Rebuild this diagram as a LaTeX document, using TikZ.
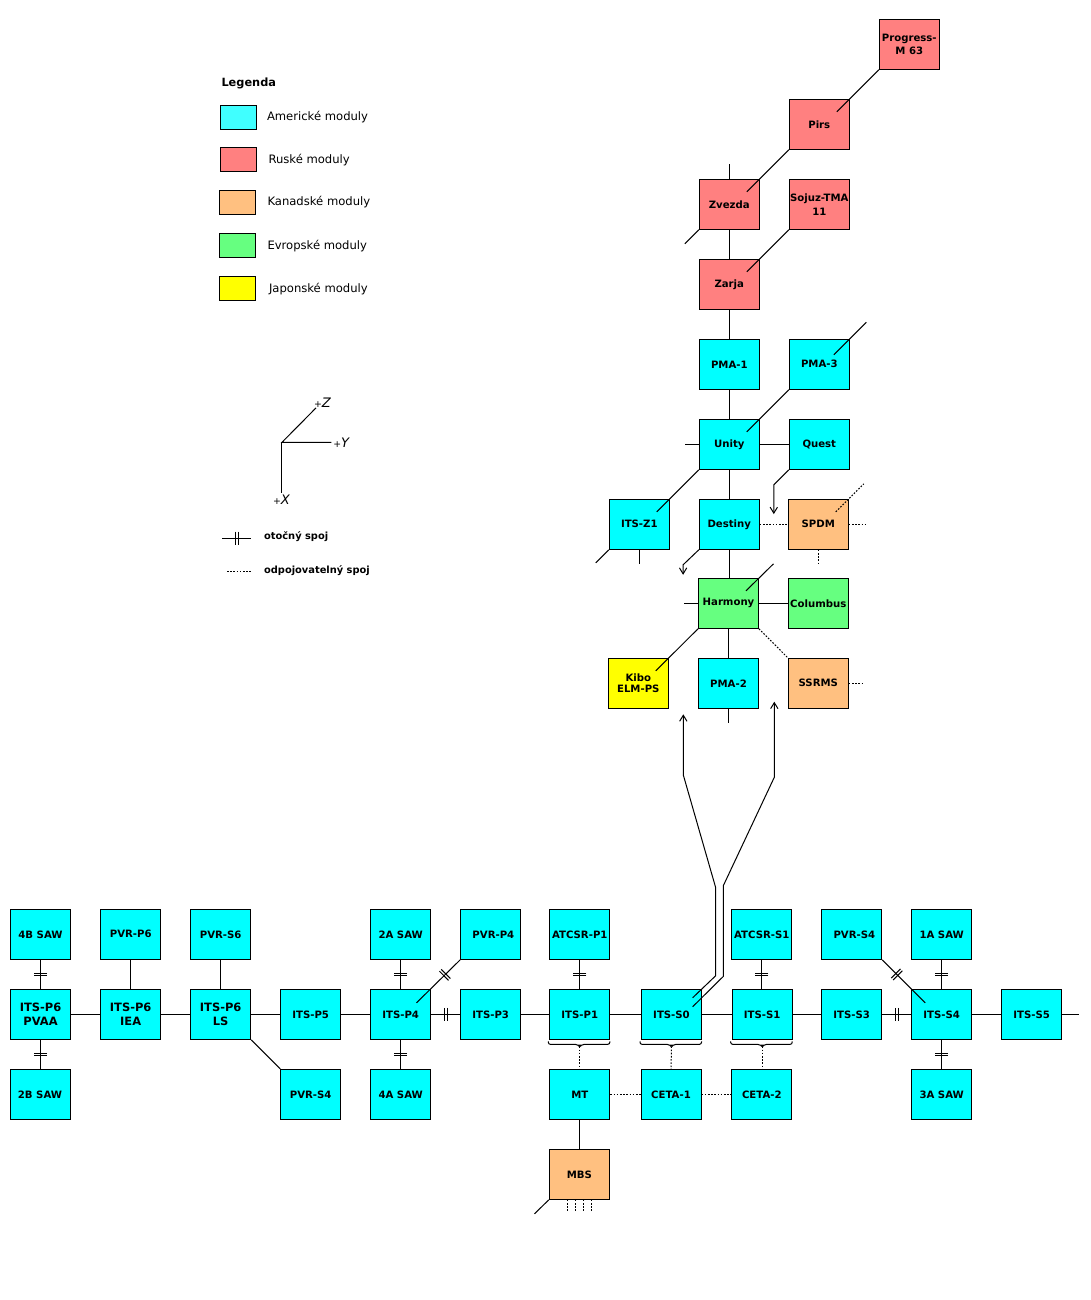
\documentclass[tikz,border=0pt]{standalone}
\usepackage{fontspec}
\setmainfont{DejaVu Sans}
\usetikzlibrary{calc,arrows.meta}
\definecolor{amer}{RGB}{0,255,255}
\definecolor{amerleg}{RGB}{64,255,255}
\definecolor{rus}{RGB}{255,128,128}
\definecolor{kan}{RGB}{255,192,128}
\definecolor{evr}{RGB}{102,255,128}
\definecolor{jap}{RGB}{255,255,0}
\tikzset{
  mod/.style={draw=black, line width=0.75pt, minimum width=45pt, minimum height=37.5pt,
    inner sep=0pt, align=center, font=\bfseries\fontsize{7.6}{9.5}\selectfont},
  am/.style={mod, fill=amer},
  ru/.style={mod, fill=rus},
  ka/.style={mod, fill=kan},
  ev/.style={mod, fill=evr},
  ja/.style={mod, fill=jap},
  big/.style={font=\bfseries\fontsize{8.6}{11}\selectfont},
  det/.style={dash pattern=on 1.2pt off 1.2pt},
  arr/.style={-{Straight Barb[length=4.5pt,width=5.5pt]}},
  rj/.pic={\draw[line width=0.75pt,solid] (-1.3,-6.5) -- (-1.3,6.5) (1.3,-6.5) -- (1.3,6.5);},
  legbox/.style={draw, line width=0.75pt, minimum width=26.6pt, minimum height=18.3pt, inner sep=0pt},
  legtxt/.style={anchor=west, inner sep=0pt, font=\fontsize{8.7}{10}\selectfont},
  legb/.style={anchor=west, inner sep=0pt, font=\bfseries\fontsize{7.4}{9}\selectfont},
  axl/.style={anchor=west, inner sep=0pt},
}
\newcommand\mybrace[1]{%
  \draw[rounded corners=1.5pt] ($(#1.south west)+(-1,1.5)$) -- ($(#1.south west)+(-1,4.5)$)
   -- ($(#1.south)+(-2.5,4.5)$) -- ($(#1.south)+(0,6.5)$) -- ($(#1.south)+(2.5,4.5)$)
   -- ($(#1.south east)+(-0.5,4.5)$) -- ($(#1.south east)+(-0.5,1.5)$);}
\newcommand\axlab[1]{{\fontsize{7}{7}\selectfont+}{\fontsize{9.8}{10}\selectfont\itshape #1}}
\begin{document}
\begin{tikzpicture}[x=0.75pt,y=-0.75pt,line width=0.75pt]
\useasboundingbox (0,0) rectangle (1090,1300);

% ---------------- legend ----------------
\node[anchor=west,inner sep=0pt,font=\bfseries\fontsize{8.5}{10}\selectfont] (legtitle) at (221,83) {Legenda};
\node[legbox,fill=amerleg] (lg1) at (238.7,117.2) {};
\node[legtxt] (lt1) at (266.5,117) {Americké moduly};
\node[legbox,fill=rus] (lg2) at (238.7,159.2) {};
\node[legtxt] (lt2) at (268,160.5) {Ruské moduly};
\node[legbox,fill=kan] (lg3) at (237.4,202.5) {};
\node[legtxt] (lt3) at (267,202.1) {Kanadské moduly};
\node[legbox,fill=evr] (lg4) at (237.4,245.5) {};
\node[legtxt] (lt4) at (267,246) {Evropské moduly};
\node[legbox,fill=jap] (lg5) at (237.4,288.5) {};
\node[legtxt] (lt5) at (268.5,289) {Japonské moduly};

% axes
\coordinate (ax0) at (281.9,442.4);
\coordinate (axZ) at (316,407.9);
\coordinate (axY) at (331.3,442.4);
\coordinate (axX) at (281.9,492.5);
\draw (axZ) -- (ax0) -- (axY);
\draw (ax0) -- (axX);
\node[axl] (lz) at (313.5,403) {\axlab{Z}};
\node[axl] (ly) at (332.8,442.4) {\axlab{Y}};
\node[axl] (lx) at (272.5,499.5) {\axlab{X}};

% joint legend
\coordinate (rl1) at (222,538);
\coordinate (rl2) at (251.4,538);
\draw (rl1) -- pic[pos=0.5,sloped]{rj} (rl2);
\node[legb] (rlt) at (263.6,537) {otočný spoj};
\coordinate (dl1) at (227,571);
\coordinate (dl2) at (250.8,571);
\draw[det] (dl1) -- (dl2);
\node[legb] (dlt) at (263.6,571) {odpojovatelný spoj};

% ---------------- upper stack ----------------
\node[ru] (progress) at (909.3,44.3) {Progress-\\M 63};
\node[ru] (pirs) at (819.3,124.3) {Pirs};
\node[ru] (zvezda) at (729.3,204.3) {Zvezda};
\node[ru, font=\bfseries\fontsize{7.6}{10.5}\selectfont] (sojuz) at (819.3,204.3) {Sojuz-TMA\\11};
\node[ru] (zarja) at (729.3,284.3) {Zarja};
\node[am] (pma1) at (729.3,364.3) {PMA-1};
\node[am] (pma3) at (819.3,364.3) {PMA-3};
\node[am] (unity) at (729.3,444.3) {Unity};
\node[am] (quest) at (819.3,444.3) {Quest};
\node[am] (itsz1) at (639.3,524.3) {ITS-Z1};
\node[am] (destiny) at (729.3,524.3) {Destiny};
\node[ka] (spdm) at (818.3,524.3) {SPDM};
\node[ev] (harmony) at (728.5,603.3) {Harmony};
\node[ev] (columbus) at (818.3,603.3) {Columbus};
\node[ja, font=\bfseries\fontsize{7.6}{8.3}\selectfont] (kibo) at (638.3,683.3) {Kibo\\ELM-PS};
\node[am] (pma2) at (728.5,683.3) {PMA-2};
\node[ka] (ssrms) at (818.3,683.3) {SSRMS};

\draw (progress.south west) -- ($(pirs.north east)+(-13,13)$);
\draw (pirs.south west) -- ($(zvezda.north east)+(-13,13)$);
\draw (zvezda.north) -- ++(0,-15);
\draw (zvezda.south west) -- ++(-14,14);
\draw (zvezda.south) -- (zarja.north);
\draw (sojuz.south west) -- ($(zarja.north east)+(-13,13)$);
\draw (zarja.south) -- (pma1.north);
\draw ($(pma3.north east)+(-16,16)$) -- ($(pma3.north east)+(16.5,-16.5)$);
\draw (pma1.south) -- (unity.north);
\draw (pma3.south west) -- ($(unity.north east)+(-13,13)$);
\draw (unity.west) -- ++(-14,0);
\draw (unity.east) -- (quest.west);
\draw (unity.south west) -- ($(itsz1.north east)+(-13,13)$);
\draw (unity.south) -- (destiny.north);
\draw[arr] (quest.south west) -- ++(-15,15) -- ++(0,29.3);
\draw[det] (destiny.east) -- (spdm.west);
\draw[det] ($(spdm.north east)+(-13,13)$) -- ($(spdm.north east)+(15,-15)$);
\draw[det] (spdm.east) -- ++(18,0);
\draw[det] (spdm.south) -- ++(0,14);
\draw (itsz1.south west) -- ++(-13,13);
\draw (itsz1.south) -- ++(0,14);
\draw[arr] (destiny.south west) -- ++(-15.7,15) -- ++(0,10);
\draw (destiny.south) -- (destiny.south |- harmony.north);
\draw ($(harmony.north east)+(-13,13)$) -- ($(harmony.north east)+(14.5,-14)$);
\draw (harmony.west) -- ++(-14,0);
\draw (harmony.east) -- (columbus.west);
\draw (harmony.south west) -- ($(kibo.north east)+(-13,13)$);
\draw (harmony.south) -- (pma2.north);
\draw[det] (harmony.south east) -- (ssrms.north west);
\draw (pma2.south) -- ++(0,14);
\draw[det] (ssrms.east) -- ++(14,0);

% ---------------- truss ----------------
\node[am] (b4B) at (40.5,934.3) {4B SAW};
\node[am, big] (pvaa) at (40.5,1014.3) {ITS-P6\\PVAA};
\node[am] (b2B) at (40,1094.3) {2B SAW};
\node[am] (pvrp6) at (130.7,934.3) {PVR-P6};
\node[am, big] (iea) at (130.7,1014.3) {ITS-P6\\IEA};
\node[am] (pvrs6) at (220.7,934.3) {PVR-S6};
\node[am, font=\bfseries\fontsize{8.6}{10.5}\selectfont] (ls) at (220.7,1014.3) {ITS-P6\\LS};
\node[am] (itsp5) at (310.7,1014.3) {ITS-P5};
\node[am] (pvrs4a) at (310.7,1094.3) {PVR-S4};
\node[am] (b2A) at (400.7,934.3) {2A SAW};
\node[am] (itsp4) at (400.7,1014.3) {ITS-P4};
\node[am] (b4A) at (400.7,1094.3) {4A SAW};
\node[am] (pvrp4) at (490.7,934.3) {\hspace{4pt}PVR-P4};
\node[am] (itsp3) at (490.7,1014.3) {ITS-P3};
\node[am] (atcsrp1) at (579.8,934.3) {ATCSR-P1};
\node[am] (itsp1) at (579.8,1014.3) {ITS-P1};
\node[am] (mt) at (579.8,1094.3) {MT};
\node[ka] (mbs) at (579.3,1174.3) {MBS};
\node[am] (itss0) at (671.5,1014.3) {ITS-S0};
\node[am] (ceta1) at (671,1094.3) {CETA-1};
\node[am] (atcsrs1) at (761.8,934.3) {ATCSR-S1};
\node[am] (itss1) at (762.2,1014.3) {ITS-S1};
\node[am] (ceta2) at (761.8,1094.3) {CETA-2};
\node[am] (pvrs4b) at (851.7,934.3) {\hspace{4pt}PVR-S4};
\node[am] (itss3) at (851.7,1014.3) {ITS-S3};
\node[am] (b1A) at (941.7,934.3) {1A SAW};
\node[am] (itss4) at (941.7,1014.3) {ITS-S4};
\node[am] (b3A) at (941.7,1094.3) {3A SAW};
\node[am] (itss5) at (1031.7,1014.3) {ITS-S5};

\draw (b4B.south) -- pic[pos=0.5,sloped]{rj} (pvaa.north);
\draw (pvaa.south) -- pic[pos=0.5,sloped]{rj} (pvaa.south |- b2B.north);
\draw (pvaa.east) -- (iea.west);
\draw (iea.east) -- (ls.west);
\draw (ls.east) -- (itsp5.west);
\draw (itsp5.east) -- (itsp4.west);
\draw (pvrp6.south) -- (iea.north);
\draw (pvrs6.south) -- (ls.north);
\draw (ls.south east) -- (pvrs4a.north west);
\draw (b2A.south) -- pic[pos=0.5,sloped]{rj} (itsp4.north);
\draw (itsp4.south) -- pic[pos=0.5,sloped]{rj} (b4A.north);
\draw (pvrp4.south west) -- pic[pos=0.35,sloped]{rj} ($(itsp4.north east)+(-14.7,14)$);
\draw (itsp4.east) -- pic[pos=0.5,sloped]{rj} (itsp3.west);
\draw (itsp3.east) -- (itsp1.west);
\draw (atcsrp1.south) -- pic[pos=0.5,sloped]{rj} (itsp1.north);
\draw (itsp1.east) -- (itss0.west);
\draw (itss0.east) -- (itss1.west);
\draw (itss1.east) -- (itss3.west);
\draw (itss3.east) -- pic[pos=0.5,sloped]{rj} (itss4.west);
\draw (pvrs4b.south east) -- pic[pos=0.34,sloped]{rj} ($(itss4.north west)+(14,14)$);
\draw (b1A.south) -- pic[pos=0.5,sloped]{rj} (itss4.north);
\draw (itss4.south) -- pic[pos=0.5,sloped]{rj} (b3A.north);
\draw (atcsrs1.south) -- pic[pos=0.5,sloped]{rj} (atcsrs1.south |- itss1.north);
\draw (itss4.east) -- (itss5.west);
\draw (itss5.east) -- ++(17,0);

\mybrace{itsp1}
\mybrace{itss0}
\mybrace{itss1}
\draw[det] ($(itsp1.south)+(0,6.5)$) -- (mt.north);
\draw[det] ($(itss0.south)+(0,6.5)$) -- (ceta1.north);
\draw[det] ($(itss1.south)+(0,6.5)$) -- (itss1.south |- ceta2.north);
\draw[det] (mt.east) -- (ceta1.west);
\draw[det] (ceta1.east) -- (ceta2.west);
\draw (mt.south) -- (mt.south |- mbs.north);
\draw (mbs.south west) -- ++(-14.3,14);
\foreach \dx in {-12,-4,4,12} \draw[det] ($(mbs.south)+(\dx,0)$) -- ++(0,11);

% long arrows from ITS-S0
\coordinate (a1s) at ($(itss0.north east)+(-9.4,9)$);
\coordinate (kiboarr) at (683.3,714.3);
\draw[arr] (a1s) -- (715.7,975.7) -- (715.7,887.7) -- (683.3,775) -- (kiboarr);
\coordinate (a2s) at ($(itss0.north east)+(-9.4,18)$);
\coordinate (ssrmsarr) at (774.3,701.7);
\draw[arr] (a2s) -- (723.3,976.4) -- (723.3,885.7) -- (774.3,777.3) -- (ssrmsarr);
\end{tikzpicture}
\end{document}
